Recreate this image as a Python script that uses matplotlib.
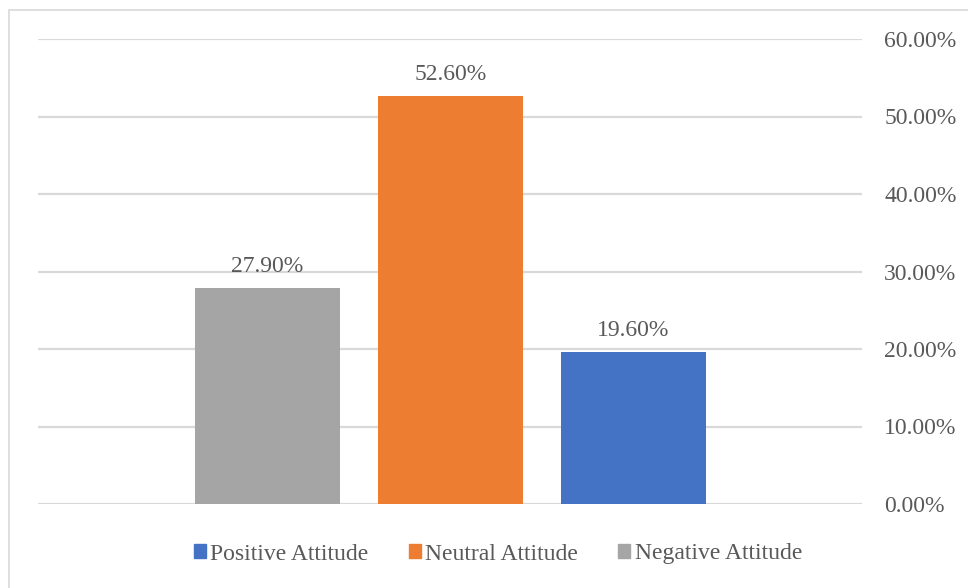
import matplotlib.pyplot as plt
from matplotlib.patches import Rectangle
from matplotlib.ticker import PercentFormatter

# attitude shares, plotted left to right
categories = ['Negative Attitude', 'Neutral Attitude', 'Positive Attitude']
values = [27.9, 52.6, 19.6]
colors = ['#A5A5A5', '#ED7D31', '#4472C4']
legend_order = ['Positive Attitude', 'Neutral Attitude', 'Negative Attitude']
y_ticks = [0, 10, 20, 30, 40, 50, 60]

plt.rcParams['font.family'] = ['Liberation Serif', 'DejaVu Serif']
text_col = '#595959'
fs = 17

W, H = 968, 588
fig = plt.figure(figsize=(W / 100, H / 100), dpi=100)
ax = fig.add_axes([38 / W, (H - 504) / H, (862 - 38) / W, (504 - 39) / H])

# light frame round the chart area (left and top edges show)
fig.patches.append(Rectangle((8.5 / W, -0.1), 1.2, (H - 9.5) / H + 0.1,
                             transform=fig.transFigure, fill=False,
                             edgecolor='#D9D9D9', linewidth=1.2))

xs = range(len(values))
bars = ax.bar(xs, values, width=0.792, color=colors, zorder=3)
for b, v in zip(bars, values):
    ax.annotate('%.2f%%' % v, (b.get_x() + b.get_width() / 2, v),
                xytext=(0, 8), textcoords='offset points',
                ha='center', va='bottom', fontsize=fs, color=text_col)

ax.set_xlim(-1.254, 3.249)
ax.set_ylim(0, 60)
ax.set_yticks(y_ticks)
ax.yaxis.set_major_formatter(PercentFormatter(decimals=2))
ax.yaxis.tick_right()
ax.tick_params(axis='y', length=0, pad=16, labelsize=fs, labelcolor=text_col)
ax.set_xticks([])
ax.grid(axis='y', color='#D9D9D9', linewidth=1.6, zorder=0)
for s in ax.spines.values():
    s.set_visible(False)

handles = [Rectangle((0, 0), 1, 1, color=colors[categories.index(n)]) for n in legend_order]
fig.legend(handles, legend_order, loc='center',
           bbox_to_anchor=(0.5 + 14 / W, (H - 554) / H),
           ncol=3, frameon=False, fontsize=fs, labelcolor=text_col,
           handlelength=0.5, handleheight=0.5, handletextpad=0.2, columnspacing=1.7)

fig.savefig('out.png', dpi=100)
